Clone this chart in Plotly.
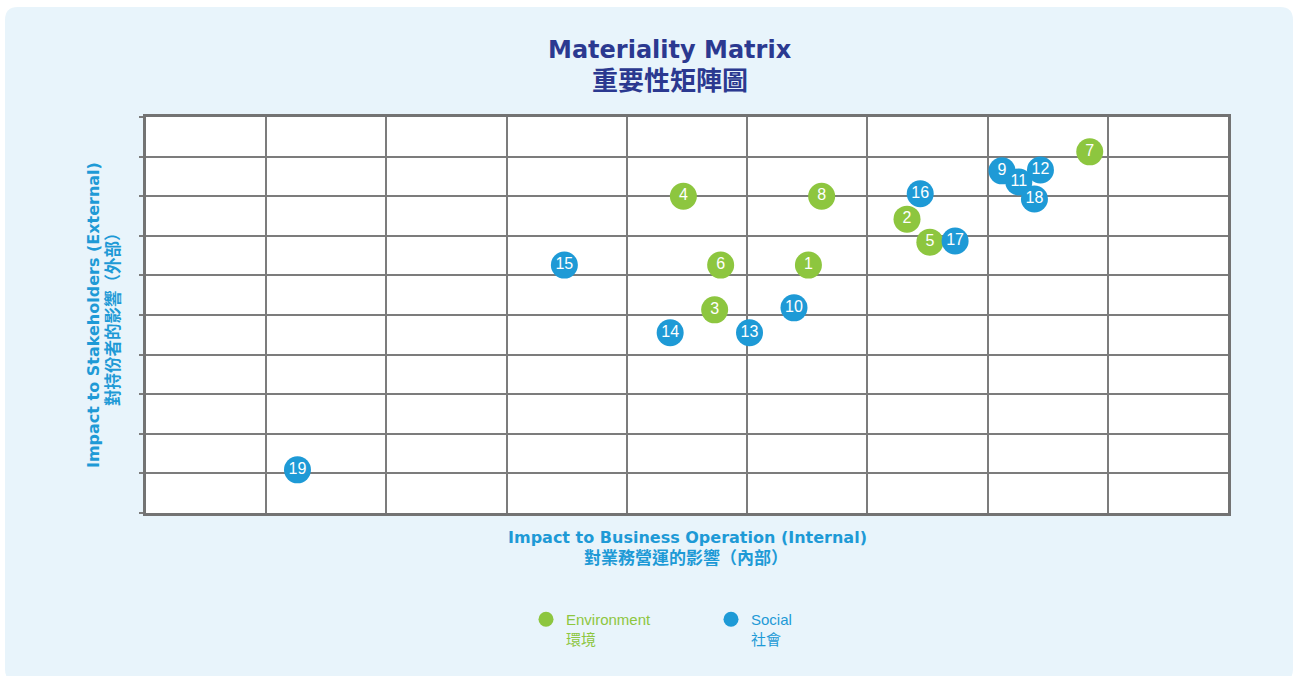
import plotly.graph_objects as go

# ---------------- data ----------------
env_ids = ["1", "2", "3", "4", "5", "6", "7", "8"]
env_x = [5.51, 6.33, 4.73, 4.47, 6.52, 4.78, 7.85, 5.62]
env_y = [6.26, 7.42, 5.13, 8.00, 6.84, 6.26, 9.12, 8.00]

soc_ids = ["9", "10", "11", "12", "13", "14", "15", "16", "17", "18", "19"]
soc_x = [7.12, 5.39, 7.26, 7.44, 5.02, 4.36, 3.48, 6.44, 6.73, 7.39, 1.26]
soc_y = [8.64, 5.18, 8.36, 8.66, 4.55, 4.55, 6.26, 8.06, 6.87, 7.93, 1.09]

series_names = ["Environment", "Social"]
series_names_zh = ["環境", "社會"]

title_en = "Materiality Matrix"
title_zh = "重要性矩陣圖"
xtitle_en = "Impact to Business Operation (Internal)"
xtitle_zh = "對業務營運的影響（內部）"
ytitle_en = "Impact to Stakeholders (External)"
ytitle_zh = "對持份者的影響（外部）"

# ---------------- style ----------------
W, H = 1295, 676
L, R, T, B = 146, 1228, 117, 513
GREEN = "#8DC63F"
BLUE = "#1E9AD6"
NAVY = "#2B3990"
BG = "#E8F4FB"
GRID = "#7C7C7C"
BOLD = "DejaVu Sans, Noto Sans CJK TC, sans-serif"
REG = "Liberation Sans, Arial, Noto Sans CJK TC, sans-serif"


def px(xp):
    return (xp - L) / (R - L)


def py(yp):
    return (B - yp) / (B - T)


fig = go.Figure()

for xs, ys, ids, col in [(env_x, env_y, env_ids, GREEN), (soc_x, soc_y, soc_ids, BLUE)]:
    fig.add_trace(go.Scatter(
        x=xs, y=ys, text=ids, mode="markers+text",
        marker=dict(size=27, color=col, line=dict(width=0)),
        textposition="middle center",
        textfont=dict(family=REG, size=16, color="white"),
        showlegend=False, hoverinfo="skip", cliponaxis=False,
    ))

# legend entries
for name, zh, col in zip(series_names, series_names_zh, [GREEN, BLUE]):
    fig.add_trace(go.Scatter(
        x=[None], y=[None], mode="markers",
        marker=dict(size=15, color=col),
        name=f'<span style="color:{col}">{name}<br>{zh}</span>',
        showlegend=True,
    ))

# rounded background panel
x0, y0, x1, y1, r = 5, 7, 1293, 682, 13
path = (
    f"M {px(x0 + r)},{py(y0)} L {px(x1 - r)},{py(y0)} "
    f"Q {px(x1)},{py(y0)} {px(x1)},{py(y0 + r)} "
    f"L {px(x1)},{py(y1 - r)} Q {px(x1)},{py(y1)} {px(x1 - r)},{py(y1)} "
    f"L {px(x0 + r)},{py(y1)} Q {px(x0)},{py(y1)} {px(x0)},{py(y1 - r)} "
    f"L {px(x0)},{py(y0 + r)} Q {px(x0)},{py(y0)} {px(x0 + r)},{py(y0)} Z"
)
shapes = [
    dict(type="path", path=path, xref="paper", yref="paper",
         fillcolor=BG, line=dict(width=0), layer="below"),
    dict(type="rect", x0=0, x1=1, y0=0, y1=1, xref="paper", yref="paper",
         fillcolor="white", line=dict(width=0), layer="below"),
]

annotations = [
    dict(text=f"<b>{title_en}</b>", x=px(670), y=py(50), xref="paper", yref="paper",
         showarrow=False, xanchor="center", yanchor="middle",
         font=dict(family=BOLD, size=24, color=NAVY)),
    dict(text=f"<b>{title_zh}</b>", x=px(670), y=py(81), xref="paper", yref="paper",
         showarrow=False, xanchor="center", yanchor="middle",
         font=dict(family=BOLD, size=26, color=NAVY)),
    dict(text=f"<b>{xtitle_en}</b>", x=px(687), y=py(537), xref="paper", yref="paper",
         showarrow=False, xanchor="center", yanchor="middle",
         font=dict(family=BOLD, size=16, color=BLUE)),
    dict(text=f"<b>{xtitle_zh}</b>", x=px(686), y=py(558), xref="paper", yref="paper",
         showarrow=False, xanchor="center", yanchor="middle",
         font=dict(family=BOLD, size=17, color=BLUE)),
    dict(text=f"<b>{ytitle_en}</b>", x=px(93), y=py(315), xref="paper", yref="paper",
         showarrow=False, xanchor="center", yanchor="middle", textangle=-90,
         font=dict(family=BOLD, size=16, color=BLUE)),
    dict(text=f"<b>{ytitle_zh}</b>", x=px(113), y=py(315), xref="paper", yref="paper",
         showarrow=False, xanchor="center", yanchor="middle", textangle=-90,
         font=dict(family=BOLD, size=16.5, color=BLUE)),
]

fig.update_layout(
    width=W, height=H,
    margin=dict(l=L, r=W - R, t=T, b=H - B, pad=0),
    paper_bgcolor="white", plot_bgcolor="white",
    shapes=shapes, annotations=annotations,
    showlegend=True,
    legend=dict(orientation="h", x=px(526), y=py(603), xanchor="left", yanchor="top",
                font=dict(family=REG, size=15), valign="top",
                bgcolor="rgba(0,0,0,0)", entrywidth=140, entrywidthmode="pixels",
                itemclick=False, itemdoubleclick=False, tracegroupgap=0),
    xaxis=dict(range=[0, 9], dtick=1, tick0=0, showgrid=True, gridcolor=GRID, gridwidth=1.6,
               zeroline=False, showline=True, mirror=True, linecolor="#737373", linewidth=2.5,
               showticklabels=False, ticks="", fixedrange=True),
    yaxis=dict(range=[0, 10], dtick=1, tick0=0, showgrid=True, gridcolor=GRID, gridwidth=1.6,
               zeroline=False, showline=True, mirror=True, linecolor="#737373", linewidth=2.5,
               showticklabels=False, ticks="outside", ticklen=4, tickcolor=GRID, tickwidth=1.5,
               fixedrange=True),
    hovermode=False,
)

fig.write_html("out.html", config={"displayModeBar": False},
               post_script="document.body.style.margin='0px';")
